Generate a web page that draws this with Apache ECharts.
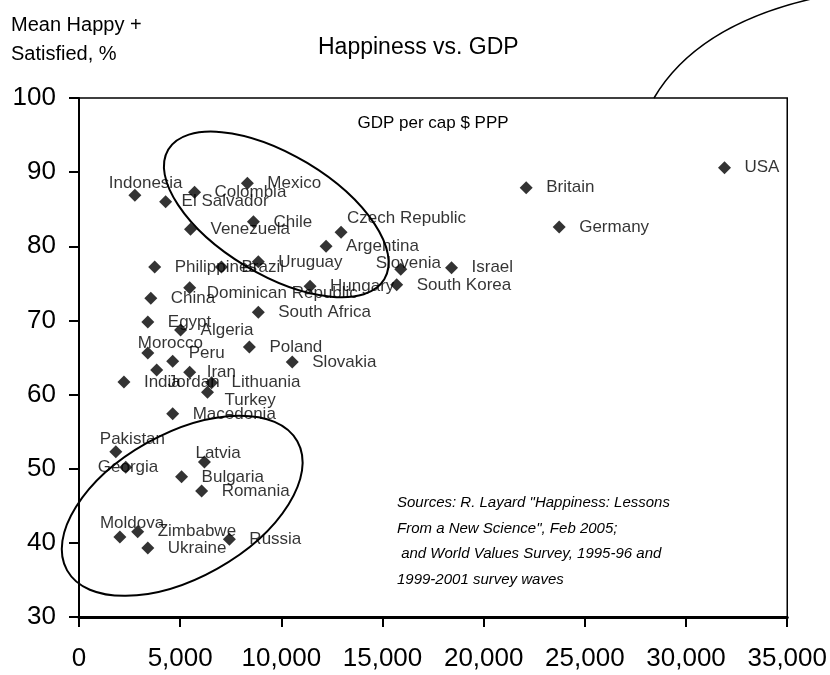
<!DOCTYPE html>
<html>
<head>
<meta charset="utf-8">
<script src="https://cdn.jsdelivr.net/npm/echarts@6/dist/echarts.min.js"></script>
<style>
  html, body { margin: 0; padding: 0; background: #fff; }
  #main { width: 830px; height: 675px; }
</style>
</head>
<body>
<div id="main"></div>
<script>
const countries = ['Indonesia', 'El Salvador', 'Colombia', 'Mexico', 'Venezuela', 'Chile', 'Czech Republic', 'Argentina',
    'Philippines', 'Brazil', 'Uruguay', 'Slovenia', 'Israel', 'South Korea', 'Hungary', 'Britain', 'Germany', 'USA',
    'Dominican Republic', 'China', 'South Africa', 'Egypt', 'Algeria', 'Morocco', 'Peru', 'Poland', 'Slovakia',
    'India', 'Jordan', 'Iran', 'Lithuania', 'Turkey', 'Macedonia', 'Pakistan', 'Georgia', 'Latvia', 'Bulgaria',
    'Romania', 'Moldova', 'Zimbabwe', 'Ukraine', 'Russia'];
const gdpPerCap = [2760, 4280, 5710, 8320, 5510, 8620, 12950, 12210,
    3740, 7040, 8860, 15900, 18410, 15700, 11420, 22100, 23730, 31900,
    5470, 3550, 8860, 3400, 5020, 3400, 4630, 8420, 10540,
    2220, 3840, 5470, 6550, 6350, 4630, 1820, 2310, 6200, 5070,
    6060, 2020, 2900, 3400, 7430];
const happySatisfied = [86.9, 86.0, 87.3, 88.5, 82.3, 83.3, 81.9, 80.0,
    77.2, 77.2, 77.9, 76.9, 77.1, 74.8, 74.6, 87.9, 82.6, 90.6,
    74.4, 73.0, 71.1, 69.8, 68.7, 65.6, 64.5, 66.4, 64.4,
    61.7, 63.3, 63.0, 61.6, 60.3, 57.4, 52.3, 50.2, 50.9, 48.9,
    47.0, 40.8, 41.5, 39.3, 40.5];

// label nudges (px) where the label does not sit plainly right of its point
const labelShift = {
    'Indonesia': [-46, -12], 'El Salvador': [-4, 0], 'Czech Republic': [-14, -14], 'Slovenia': [-45, -6],
    'Dominican Republic': [-3, 6], 'Morocco': [-30, -10], 'Peru': [-4, -8], 'Jordan': [-9, 12],
    'Iran': [-3, 0], 'Turkey': [-3, 8], 'Pakistan': [-36, -12], 'Georgia': [-48, 0], 'Latvia': [-29, -9],
    'Moldova': [-40, -14]
};

const sourceLines = ['Sources: R. Layard "Happiness: Lessons', 'From a New Science", Feb 2005;',
    ' and World Values Survey, 1995-96 and', '1999-2001 survey waves'];

const FONT = '"Liberation Sans", Arial, sans-serif';

const chart = echarts.init(document.getElementById('main'));

const points = countries.map((name, i) => {
    const shift = labelShift[name] || [0, 0];
    return { name, value: [gdpPerCap[i], happySatisfied[i]], label: { offset: shift } };
});

chart.setOption({
    animation: false,
    backgroundColor: '#fff',
    textStyle: { fontFamily: FONT },
    title: [
        { text: 'Mean Happy +\nSatisfied, %', left: 6, top: 6,
          textStyle: { fontFamily: FONT, fontSize: 20, fontWeight: 'normal', color: '#000', lineHeight: 29 } },
        { text: 'Happiness vs. GDP', left: 313, top: 31,
          textStyle: { fontFamily: FONT, fontSize: 23, fontWeight: 'normal', color: '#000' } }
    ],
    grid: { left: 79, right: 39, top: 98, bottom: 58, show: true, borderColor: '#000', borderWidth: 1.5, backgroundColor: '#fff' },
    xAxis: {
        type: 'value', min: 0, max: 35000, interval: 5000,
        splitLine: { show: false },
        axisLine: { show: true, onZero: false, lineStyle: { color: '#000', width: 3 } },
        axisTick: { show: true, length: 10, lineStyle: { color: '#000', width: 2 } },
        axisLabel: { color: '#000', fontSize: 26, margin: 29, fontFamily: FONT,
                     formatter: v => v.toLocaleString('en-US') }
    },
    yAxis: {
        type: 'value', min: 30, max: 100, interval: 10,
        splitLine: { show: false },
        axisLine: { show: true, onZero: false, lineStyle: { color: '#000', width: 2 } },
        axisTick: { show: true, length: 10, lineStyle: { color: '#000', width: 2 } },
        axisLabel: { color: '#000', fontSize: 26, margin: 23, fontFamily: FONT }
    },
    series: [{
        type: 'scatter',
        symbol: 'diamond',
        symbolSize: 13,
        itemStyle: { color: '#000' },
        label: { show: true, position: 'right', distance: 13.5, formatter: '{b}',
                 color: '#000', fontSize: 17, fontFamily: FONT },
        data: points
    }]
});

// ellipse annotations anchored in data space
const ellipses = [
    { center: [9750, 84.3], rx: 126, ry: 60, angle: -31 },
    { center: [5100, 45.0], rx: 132, ry: 72, angle: 29.3 }
];

const graphics = ellipses.map(e => {
    const p = chart.convertToPixel({ gridIndex: 0 }, e.center);
    return {
        type: 'ellipse', x: p[0], y: p[1], rotation: e.angle * Math.PI / 180, z: 10,
        shape: { cx: 0, cy: 0, rx: e.rx, ry: e.ry },
        style: { fill: 'none', stroke: '#000', lineWidth: 2 }
    };
});

graphics.push({
    type: 'bezierCurve', z: 10,
    shape: { x1: 654, y1: 98, cpx1: 700, cpy1: 20, x2: 830, y2: -5 },
    style: { fill: 'none', stroke: '#000', lineWidth: 1.5 }
});

graphics.push({
    type: 'text', x: 433, y: 123, z: 10,
    style: { text: 'GDP per cap $ PPP', fontFamily: FONT, fontSize: 17, fill: '#000', align: 'center', verticalAlign: 'middle' }
});

sourceLines.forEach((line, i) => {
    graphics.push({
        type: 'text', x: 397, y: 503 + i * 25.5, z: 10,
        style: { text: line, fontFamily: FONT, fontSize: 15, fontStyle: 'italic', fill: '#000', verticalAlign: 'middle' }
    });
});

chart.setOption({ graphic: graphics });
</script>
</body>
</html>
